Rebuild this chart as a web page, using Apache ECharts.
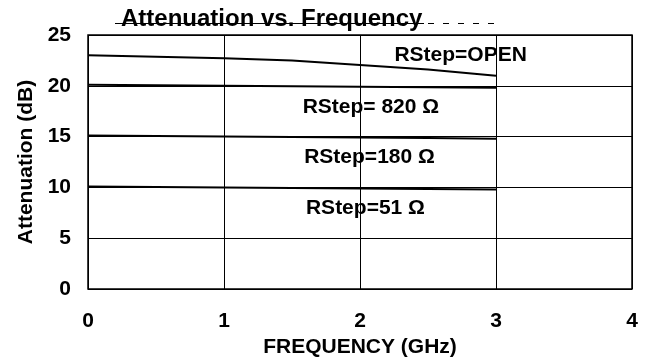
<!DOCTYPE html>
<html><head><meta charset="utf-8">
<script src="https://cdn.jsdelivr.net/npm/echarts@6/dist/echarts.min.js"></script>
<style>html,body{margin:0;padding:0;background:#fff}#c{width:655px;height:360px}</style>
</head><body><div id="c"></div>
<script>
const freq = [0, 0.5, 1, 1.5, 2, 2.5, 3];
const openVals = [23.0, 22.85, 22.7, 22.5, 22.05, 21.6, 21.0];
const r820 = [20.1, 20.05, 20.0, 19.95, 19.9, 19.85, 19.8];
const r180 = [15.1, 15.05, 15.0, 14.95, 14.9, 14.85, 14.8];
const r51 = [10.1, 10.05, 10.0, 9.95, 9.9, 9.85, 9.8];
const xTicks = [0, 1, 2, 3, 4];
const yTicks = [0, 5, 10, 15, 20, 25];
const labels = [
  {text: 'RStep=OPEN', x: 2.74, y: 23.0},
  {text: 'RStep= 820 Ω', x: 2.08, y: 17.9},
  {text: 'RStep=180 Ω', x: 2.07, y: 13.0},
  {text: 'RStep=51 Ω', x: 2.04, y: 8.0}
];
const FONT = 'Liberation Sans';
function mk(vals, i) {
  const lb = labels[i];
  return {
    type: 'line', data: freq.map((f, k) => [f, vals[k]]), symbol: 'none', smooth: false,
    lineStyle: {color: '#000', width: 2}, silent: true,
    markPoint: {symbol: 'circle', symbolSize: 0, silent: true,
      data: [{coord: [lb.x, lb.y], value: lb.text}],
      label: {show: true, position: 'inside', formatter: lb.text, color: '#000',
        fontFamily: FONT, fontWeight: 'bold', fontSize: 21}}
  };
}
const chart = echarts.init(document.getElementById('c'), null, {renderer: 'canvas'});
chart.setOption({
  animation: false,
  backgroundColor: '#fff',
  title: {text: 'Attenuation vs. Frequency', left: 116, top: 2,
    textStyle: {fontFamily: FONT, fontWeight: 'bold', fontSize: 24, color: '#000'}},
  grid: {left: 88, right: 23, top: 35, bottom: 71, show: true, borderColor: '#000', borderWidth: 1.5,
    containLabel: false, outerBoundsMode: 'none'},
  xAxis: {type: 'value', min: xTicks[0], max: xTicks[xTicks.length-1], interval: 1,
    name: 'FREQUENCY (GHz)', nameLocation: 'middle', nameGap: 46,
    nameTextStyle: {fontFamily: FONT, fontWeight: 'bold', fontSize: 21, color: '#000'},
    axisLine: {show: false}, axisTick: {show: false},
    axisLabel: {fontFamily: FONT, fontWeight: 'bold', fontSize: 21, color: '#000', margin: 22},
    splitLine: {show: true, lineStyle: {color: '#000', width: 1}}},
  yAxis: {type: 'value', min: yTicks[0], max: yTicks[yTicks.length-1], interval: 5,
    name: 'Attenuation (dB)', nameLocation: 'middle', nameGap: 51,
    nameTextStyle: {fontFamily: FONT, fontWeight: 'bold', fontSize: 21, color: '#000'},
    axisLine: {show: false}, axisTick: {show: false},
    axisLabel: {fontFamily: FONT, fontWeight: 'bold', fontSize: 21, color: '#000', margin: 17},
    splitLine: {show: true, lineStyle: {color: '#000', width: 1}}},
  graphic: [
    {type: 'line', shape: {x1: 115, y1: 23.5, x2: 424, y2: 23.5}, style: {stroke: '#000', lineWidth: 1}},
    {type: 'line', shape: {x1: 428, y1: 23.5, x2: 494, y2: 23.5}, style: {stroke: '#000', lineWidth: 1, lineDash: [6, 9]}}
  ],
  series: [mk(openVals, 0), mk(r820, 1), mk(r180, 2), mk(r51, 3)]
});
</script></body></html>
